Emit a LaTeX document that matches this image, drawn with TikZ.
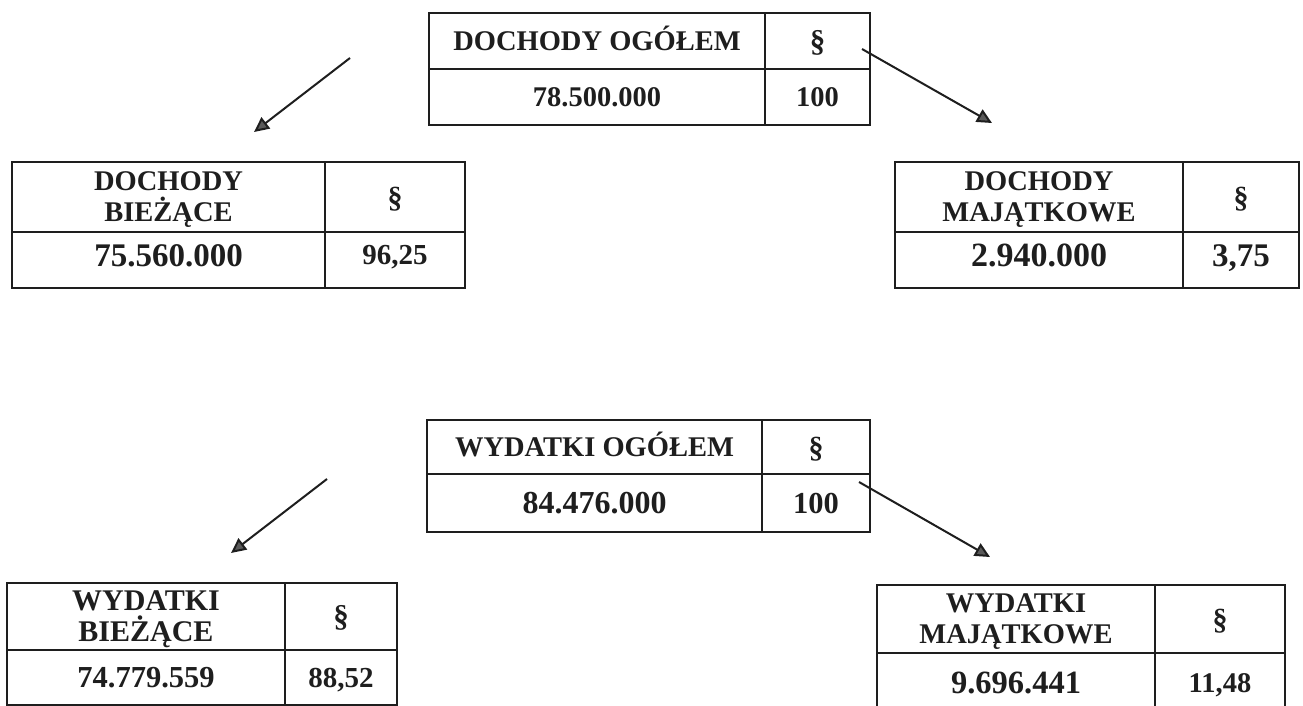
\documentclass[tikz,border=0pt]{standalone}
\usepackage{fontspec}
\setmainfont{Liberation Serif}
\usetikzlibrary{arrows.meta}
\definecolor{ink}{HTML}{1E1E1E}
\definecolor{tipfill}{HTML}{5A5A5A}
\begin{document}
\begin{tikzpicture}[x=1pt,y=-1pt,
  cell/.style={draw=ink, line width=1.3pt, rectangle, inner sep=0pt, outer sep=0pt,
    text=ink, font=\fontsize{28.5}{31}\selectfont\bfseries, align=center, text depth=0pt},
  sz/.style={font=\fontsize{#1}{31}\selectfont\bfseries, text height={0.676*#1pt}},
  one/.style={cell, sz=28.5},
  arr/.style={draw=ink, line width=2pt, -{Triangle[length=15pt,width=14pt,fill=tipfill]}}]
\clip (0,0) rectangle (1303,706);
\fill[white] (0,0) rectangle (1303,706);
% top table
\node[one, minimum width=336pt, minimum height=56pt] (t1) at (597,41) {DOCHODY OGÓŁEM};
\node[one, sz=31, minimum width=105pt, minimum height=56pt] (t2) at (817.5,41) {§};
\node[one, minimum width=336pt, minimum height=56pt] (t3) at (597,97) {78.500.000};
\node[one, minimum width=105pt, minimum height=56pt] (t4) at (817.5,97) {100};
% left table
\node[cell, minimum width=313pt, minimum height=70pt] (l1) at (168.5,197) {DOCHODY\\BIEŻĄCE};
\node[one, sz=30, minimum width=140pt, minimum height=70pt] (l2) at (395,197) {§};
\node[one, sz=33, text depth=10pt, minimum width=313pt, minimum height=56pt] (l3) at (168.5,260) {75.560.000};
\node[one, sz=29, text depth=10pt, minimum width=140pt, minimum height=56pt] (l4) at (395,260) {96,25};
% right table
\node[cell, minimum width=288pt, minimum height=70pt] (r1) at (1039,197) {DOCHODY\\MAJĄTKOWE};
\node[one, sz=30, minimum width=116pt, minimum height=70pt] (r2) at (1241,197) {§};
\node[one, sz=34, text depth=10pt, minimum width=288pt, minimum height=56pt] (r3) at (1039,260) {2.940.000};
\node[one, sz=33, text depth=10pt, minimum width=116pt, minimum height=56pt] (r4) at (1241,260) {3,75};
% bottom centre table
\node[one, minimum width=335pt, minimum height=54pt] (b1) at (594.5,447) {WYDATKI OGÓŁEM};
\node[one, sz=30, minimum width=108pt, minimum height=54pt] (b2) at (816,447) {§};
\node[one, sz=32, minimum width=335pt, minimum height=58pt] (b3) at (594.5,503) {84.476.000};
\node[one, sz=30.5, minimum width=108pt, minimum height=58pt] (b4) at (816,503) {100};
% bottom left table
\node[cell, font=\fontsize{30}{31}\selectfont\bfseries, minimum width=278pt, minimum height=67pt] (bl1) at (146,616.5) {WYDATKI\\BIEŻĄCE};
\node[one, sz=31, minimum width=112pt, minimum height=67pt] (bl2) at (341,616.5) {§};
\node[one, sz=30.5, minimum width=278pt, minimum height=55pt] (bl3) at (146,677.5) {74.779.559};
\node[one, sz=29, minimum width=112pt, minimum height=55pt] (bl4) at (341,677.5) {88,52};
% bottom right table
\node[cell, minimum width=278pt, minimum height=68pt] (br1) at (1016,619) {WYDATKI\\MAJĄTKOWE};
\node[one, sz=30, minimum width=130pt, minimum height=68pt] (br2) at (1220,619) {§};
\node[one, sz=32.5, minimum width=278pt, minimum height=59pt] (br3) at (1016,682.5) {9.696.441};
\node[one, minimum width=130pt, minimum height=59pt] (br4) at (1220,682.5) {11,48};
% arrows
\coordinate (a1s) at (350,58);  \coordinate (a1e) at (254,132);
\coordinate (a2s) at (862,49);  \coordinate (a2e) at (992,123);
\coordinate (a3s) at (327,479); \coordinate (a3e) at (231,553);
\coordinate (a4s) at (859,482); \coordinate (a4e) at (990,557);
\draw[arr] (a1s) -- (a1e);
\draw[arr] (a2s) -- (a2e);
\draw[arr] (a3s) -- (a3e);
\draw[arr] (a4s) -- (a4e);
\end{tikzpicture}
\end{document}
